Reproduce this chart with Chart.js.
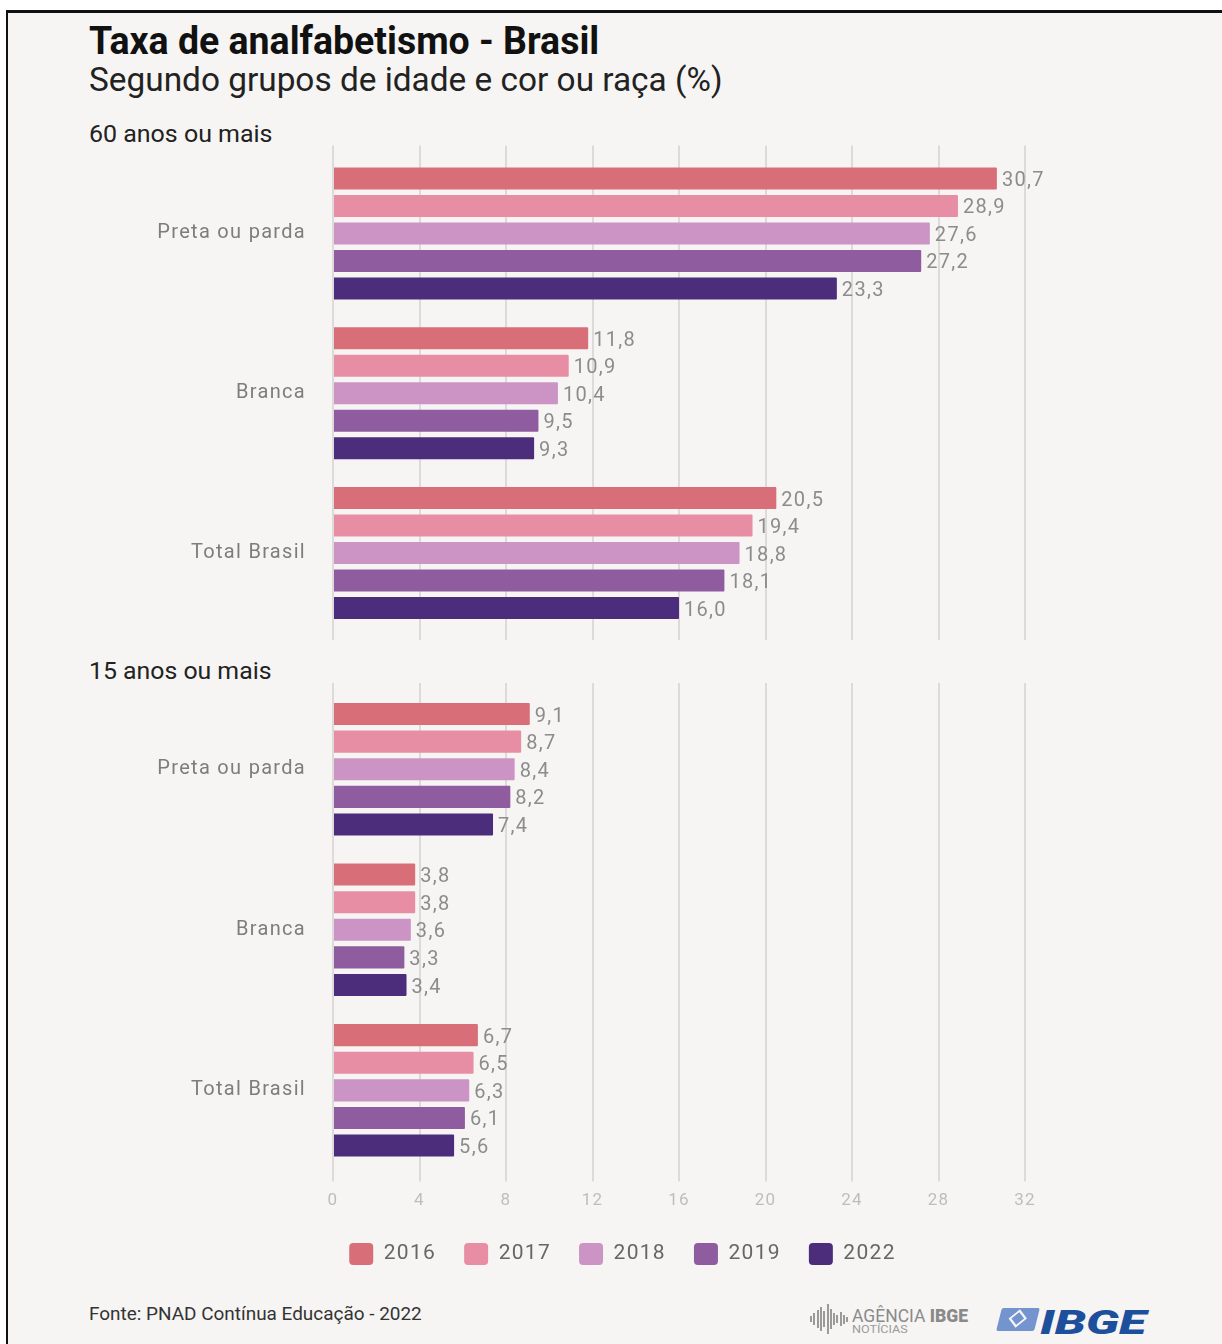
<!DOCTYPE html>
<html>
<head>
<meta charset="utf-8">
<script src="https://cdn.jsdelivr.net/npm/chart.js@4.4.1/dist/chart.umd.min.js"></script>
<style>
  body { margin: 0; background: #fff; width: 1222px; height: 1344px; overflow: hidden; position: relative; font-family: Roboto, sans-serif; }
  #frame { position: absolute; left: 6px; top: 10px; width: 1216px; height: 1334px; background: #f6f5f3;
           border-left: 2px solid #111; border-top: 3px solid #111; box-sizing: border-box; }
  .txt { position: absolute; white-space: nowrap; line-height: 1; transform-origin: 0 0; }
  #title { left: 89px; top: 22px; font-size: 39px; font-weight: bold; color: #111; }
  #subtitle { left: 89px; top: 62px; font-size: 34px; color: #222; }
  .group { left: 89px; font-size: 24px; color: #222; }
  #fonte { left: 89px; top: 1304px; font-size: 19px; color: #333; }
  canvas { position: absolute; left: 0; }
  #agencia { left: 852px; top: 1306px; font-size: 19px; color: #8a8a8a; }
  #agencia b { font-weight: 900; }
  #noticias { left: 852px; top: 1324px; font-size: 11px; color: #9a9a9a; }
  #ibge { left: 1040px; top: 1306px; font-size: 33px; font-weight: 900; font-style: italic; color: #1d4f9d; }
  #ibgeicon { position: absolute; left: 999px; top: 1308px; width: 38px; height: 23px; background: #7494cf;
              transform: skewX(-14deg); border-radius: 2px; }
  #ibgeicon:after { content: ''; position: absolute; left: 12px; top: 4px; width: 13px; height: 13px;
              border: 2px solid #f6f5f3; transform: rotate(45deg); box-sizing: border-box; }
  #bars { position: absolute; left: 810px; top: 1302px; width: 40px; height: 34px; }
  #bars i { position: absolute; width: 2px; background: #9a9a9a; }
</style>
</head>
<body>
<div id="frame"></div>
<div id="title" class="txt" data-w="510">Taxa de analfabetismo - Brasil</div>
<div id="subtitle" class="txt" data-w="634">Segundo grupos de idade e cor ou raça (%)</div>
<div class="txt group" style="top:122px" data-w="183">60 anos ou mais</div>
<div class="txt group" style="top:659px" data-w="182">15 anos ou mais</div>

<canvas id="chart60" width="1222" height="504" style="top:138px"></canvas>
<canvas id="chart15" width="1222" height="609" style="top:675px"></canvas>

<div id="fonte" class="txt" data-w="333">Fonte: PNAD Contínua Educação - 2022</div>
<div id="bars"></div>
<div id="agencia" class="txt" data-w="116">AGÊNCIA <b>IBGE</b></div>
<div id="noticias" class="txt" data-w="56">NOTÍCIAS</div>
<div id="ibgeicon"></div>
<div id="ibge" class="txt" data-w="106">IBGE</div>

<script>
// categories and series
const categories = ['Preta ou parda', 'Branca', 'Total Brasil'];
const years = ['2016', '2017', '2018', '2019', '2022'];
const xTicks = [0, 4, 8, 12, 16, 20, 24, 28, 32];

// 60 anos ou mais
const age60_2016 = [30.7, 11.8, 20.5];
const age60_2017 = [28.9, 10.9, 19.4];
const age60_2018 = [27.6, 10.4, 18.8];
const age60_2019 = [27.2, 9.5, 18.1];
const age60_2022 = [23.3, 9.3, 16.0];

// 15 anos ou mais
const age15_2016 = [9.1, 3.8, 6.7];
const age15_2017 = [8.7, 3.8, 6.5];
const age15_2018 = [8.4, 3.6, 6.3];
const age15_2019 = [8.2, 3.3, 6.1];
const age15_2022 = [7.4, 3.4, 5.6];

const palette = ['#d86f78', '#e88ea4', '#cb94c5', '#8e5c9f', '#4b2d7c'];
const GRID = '#dcdbd9';
const PAD_LEFT = 140;

// squeeze html texts to the widths of the original (condensed) lettering
document.querySelectorAll('.txt[data-w]').forEach(function (el) {
    el.style.transform = 'scaleX(' + (el.dataset.w / el.offsetWidth) + ')';
});

// little bar glyphs for the agencia logo
(function () {
    var b = document.getElementById('bars');
    var hs = [6, 12, 18, 24, 16, 30, 20, 12, 8, 14, 9, 5];
    hs.forEach(function (h, i) {
        var el = document.createElement('i');
        el.style.left = (i * 3.3) + 'px';
        el.style.height = h + 'px';
        el.style.top = (17 - h / 2) + 'px';
        b.appendChild(el);
    });
})();

// slightly spaced lettering, like the original
const spacing = {
    id: 'spacing',
    beforeUpdate: function (chart) { chart.ctx.letterSpacing = '1.3px'; },
    beforeDraw: function (chart) { chart.ctx.letterSpacing = '1.3px'; }
};

// the legend sits under the plot, not under the whole canvas
const legendShift = {
    id: 'legendShift',
    afterLayout: function (chart) {
        var lg = chart.legend;
        if (!lg || !lg.options.display) return;
        var dx = 40, dy = -5;
        lg.left += dx; lg.right += dx;
        lg.top += dy; lg.bottom += dy;
    }
};

// draws the value next to each bar, with a comma decimal
const valueLabels = {
    id: 'valueLabels',
    afterDatasetsDraw: function (chart) {
        var ctx = chart.ctx;
        ctx.save();
        ctx.font = '20px Roboto';
        ctx.fillStyle = '#8c8c8c';
        ctx.textAlign = 'left';
        ctx.textBaseline = 'middle';
        chart.data.datasets.forEach(function (ds, i) {
            chart.getDatasetMeta(i).data.forEach(function (bar, j) {
                ctx.fillText(ds.data[j].toFixed(1).replace('.', ','), bar.x + 5, bar.y + 2.5);
            });
        });
        ctx.restore();
    }
};

function makeDatasets(series) {
    return series.map(function (vals, i) {
        return {
            label: years[i],
            data: vals,
            backgroundColor: palette[i],
            borderWidth: 0,
            borderRadius: 1,
            categoryPercentage: 0.86,
            barPercentage: 0.8
        };
    });
}

function makeChart(id, series, showBottom) {
    return new Chart(document.getElementById(id), {
        type: 'bar',
        data: { labels: categories, datasets: makeDatasets(series) },
        plugins: [spacing, legendShift, valueLabels],
        options: {
            indexAxis: 'y',
            responsive: false,
            animation: false,
            layout: { padding: { left: PAD_LEFT, right: 197, top: showBottom ? 8 : 7.5, bottom: showBottom ? 4 : 2 } },
            scales: {
                y: {
                    afterFit: function (s) { s.width = 333 - PAD_LEFT; },
                    grid: { display: false, drawTicks: true, tickLength: 27 },
                    border: { display: false },
                    ticks: { padding: 0, color: '#7d7d7d', font: { family: 'Roboto', size: 20, lineHeight: 0.7 } }
                },
                x: {
                    position: 'bottom',
                    min: 0, max: 32,
                    afterBuildTicks: function (s) { s.ticks = xTicks.map(function (v) { return { value: v }; }); },
                    grid: { color: GRID, lineWidth: 2, tickLength: showBottom ? 11 : 7 },
                    border: { display: false },
                    ticks: { display: showBottom, padding: 9, color: '#bdbdbd', font: { family: 'Roboto', size: 17 } }
                },
                xTop: {
                    type: 'linear',
                    position: 'top',
                    min: 0, max: 32,
                    afterBuildTicks: function (s) { s.ticks = xTicks.map(function (v) { return { value: v }; }); },
                    grid: { color: GRID, lineWidth: 2, drawOnChartArea: false, tickLength: showBottom ? 6 : 8 },
                    border: { display: false },
                    ticks: { display: false }
                }
            },
            plugins: {
                legend: {
                    display: showBottom,
                    position: 'bottom',
                    labels: {
                        boxWidth: 24, boxHeight: 22, useBorderRadius: true, borderRadius: 4,
                        padding: 28, color: '#666', font: { family: 'Roboto', size: 21 }
                    }
                },
                tooltip: { enabled: false }
            }
        }
    });
}

makeChart('chart60', [age60_2016, age60_2017, age60_2018, age60_2019, age60_2022], false);
makeChart('chart15', [age15_2016, age15_2017, age15_2018, age15_2019, age15_2022], true);
</script>
</body>
</html>
